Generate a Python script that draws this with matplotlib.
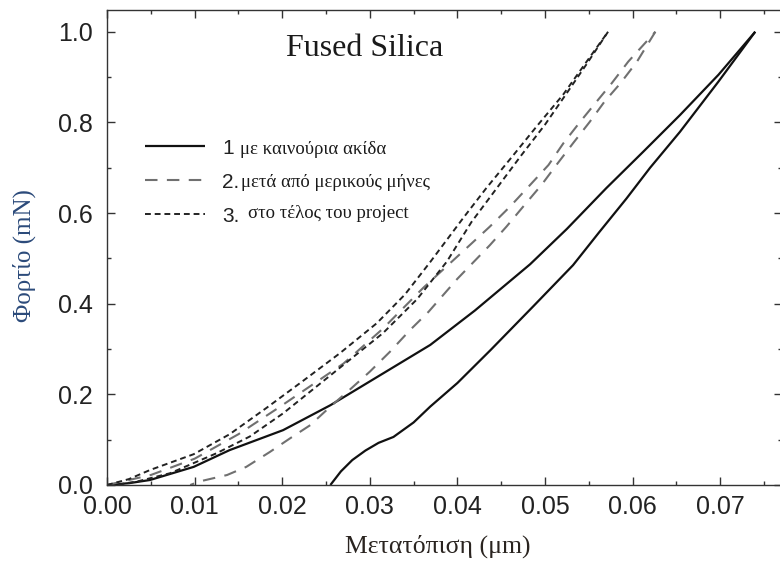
import matplotlib
matplotlib.use("Agg")
import matplotlib.pyplot as plt
from matplotlib.ticker import MultipleLocator, FormatStrFormatter

# curve 1: new tip (solid), loading and unloading branches
tip_new_load_h = [0, 0.0025, 0.0049, 0.0099, 0.0140, 0.0201, 0.0255, 0.0315, 0.0369,
                  0.0420, 0.0483, 0.0525, 0.0570, 0.0612, 0.0654, 0.0698, 0.0740]
tip_new_load_P = [0, 0.004, 0.011, 0.040, 0.077, 0.121, 0.176, 0.246, 0.309,
                  0.385, 0.487, 0.565, 0.655, 0.735, 0.816, 0.905, 1.0]
tip_new_unload_h = [0.0740, 0.0698, 0.0654, 0.0620, 0.0593, 0.0562, 0.0532, 0.0487, 0.0438,
                    0.0400, 0.0369, 0.0350, 0.0327, 0.0310, 0.0295, 0.0280, 0.0267, 0.0255]
tip_new_unload_P = [1.0, 0.890, 0.779, 0.700, 0.632, 0.558, 0.485, 0.395, 0.298,
                    0.225, 0.173, 0.138, 0.106, 0.093, 0.076, 0.055, 0.030, 0.0]

# curve 2: after some months (grey dashed)
months_load_h = [0, 0.0050, 0.0100, 0.0150, 0.0197, 0.0235, 0.0270, 0.0315, 0.0361, 0.0414,
                 0.0437, 0.0460, 0.0483, 0.0504, 0.0521, 0.0540, 0.0559, 0.0576, 0.0595, 0.0626]
months_load_P = [0, 0.022, 0.058, 0.112, 0.172, 0.222, 0.268, 0.345, 0.435, 0.529,
                 0.570, 0.614, 0.662, 0.706, 0.754, 0.801, 0.846, 0.886, 0.934, 1.0]
months_unload_h = [0.0626, 0.0605, 0.0586, 0.0568, 0.0551, 0.0532, 0.0513, 0.0496, 0.0475,
                   0.0456, 0.0437, 0.0400, 0.0367, 0.0346, 0.0323, 0.0300, 0.0277, 0.0255,
                   0.0232, 0.0209, 0.0186, 0.0159, 0.0137, 0.0106, 0.0095]
months_unload_P = [1.0, 0.934, 0.886, 0.846, 0.801, 0.754, 0.706, 0.662, 0.614,
                   0.570, 0.529, 0.455, 0.382, 0.342, 0.294, 0.250, 0.210, 0.173,
                   0.132, 0.103, 0.073, 0.040, 0.022, 0.008, 0.0]

# curve 3: end of project (short dashes)
end_load_h = [0, 0.0025, 0.0049, 0.0099, 0.0140, 0.0182, 0.0224, 0.0266, 0.0308, 0.0340,
              0.0369, 0.0407, 0.0433, 0.0464, 0.0490, 0.0521, 0.0546, 0.0572]
end_load_P = [0, 0.013, 0.033, 0.068, 0.112, 0.170, 0.230, 0.291, 0.357, 0.420,
              0.492, 0.590, 0.655, 0.728, 0.790, 0.862, 0.930, 1.0]
end_unload_h = [0.0572, 0.0548, 0.0525, 0.0500, 0.0472, 0.0445, 0.0416, 0.0388, 0.0354,
                0.0315, 0.0277, 0.0239, 0.0201, 0.0163, 0.0125, 0.0072, 0.0035, 0.0010]
end_unload_P = [1.0, 0.930, 0.865, 0.795, 0.725, 0.655, 0.580, 0.493, 0.410,
                0.335, 0.276, 0.217, 0.158, 0.107, 0.070, 0.026, 0.008, 0.0]

legend_nums = ["1", "2.", "3."]
legend_texts = ["με καινούρια ακίδα", "μετά από μερικούς μήνες", "στο τέλος του project"]

sans = "Liberation Sans"
serif = "Liberation Serif"

fig = plt.figure(figsize=(7.8, 5.63), dpi=100)
ax = fig.add_axes([107 / 780, 78 / 563, 674.5 / 780, 475 / 563])

solid_kw = dict(color="#111111", lw=1.6, solid_capstyle="butt")
grey_kw = dict(color="#707070", lw=1.5, linestyle=(0, (6, 4.5)))
short_kw = dict(color="#222222", lw=1.4, linestyle=(0, (3, 2)))

l1, = ax.plot(tip_new_load_h, tip_new_load_P, **solid_kw)
ax.plot(tip_new_unload_h, tip_new_unload_P, **solid_kw)
l2, = ax.plot(months_load_h, months_load_P, **grey_kw)
ax.plot(months_unload_h, months_unload_P, **grey_kw)
l3, = ax.plot(end_load_h, end_load_P, **short_kw)
ax.plot(end_unload_h, end_unload_P, **short_kw)

ax.set_xlim(0, 0.0770)
ax.set_ylim(0, 1.048)

ax.xaxis.set_major_locator(MultipleLocator(0.01))
ax.xaxis.set_minor_locator(MultipleLocator(0.005))
ax.yaxis.set_major_locator(MultipleLocator(0.2))
ax.yaxis.set_minor_locator(MultipleLocator(0.1))
ax.xaxis.set_major_formatter(FormatStrFormatter("%.2f"))
ax.yaxis.set_major_formatter(FormatStrFormatter("%.1f"))

ax.tick_params(which="both", direction="in", top=True, right=True, width=1.0, color="#333333")
ax.tick_params(which="major", length=5.5)
ax.tick_params(which="minor", length=3)
ax.tick_params(axis="x", pad=7, labelsize=18, labelcolor="#222222")
ax.tick_params(axis="y", pad=10, labelsize=18, labelcolor="#222222")
for lab in ax.get_xticklabels() + ax.get_yticklabels():
    lab.set_family(sans)
for s in ax.spines.values():
    s.set_linewidth(1.0)
    s.set_color("#333333")

ax.set_xlabel("Μετατόπιση (μm)", family=serif, fontsize=18.5, color="#2a2420")
ax.xaxis.set_label_coords(0.49, -0.105)
ax.set_ylabel("Φορτίο (mN)", family=serif, fontsize=18, color="#2b4a7a")
ax.yaxis.set_label_coords(-0.106, 0.484)

ax.text(0.3825, 0.92, "Fused Silica", transform=ax.transAxes, family=serif,
        fontsize=23, color="#1a1a1a", ha="center", va="center")

leg = ax.legend([l1, l2, l3], legend_nums, loc="upper left", bbox_to_anchor=(0.0563, 0.729),
                frameon=False, borderpad=0, borderaxespad=0, handlelength=2.9,
                handletextpad=0.8, labelspacing=0.72, prop={"family": sans, "size": 15})
for t in leg.get_texts():
    t.set_color("#222222")

desc_x = [0.197, 0.198, 0.209]
desc_y = [0.706, 0.636, 0.571]
for x, y, txt in zip(desc_x, desc_y, legend_texts):
    ax.text(x, y, txt, transform=ax.transAxes, family=serif, fontsize=13.5,
            color="#1a1a1a", ha="left", va="center")

fig.savefig("out.png", dpi=100)
